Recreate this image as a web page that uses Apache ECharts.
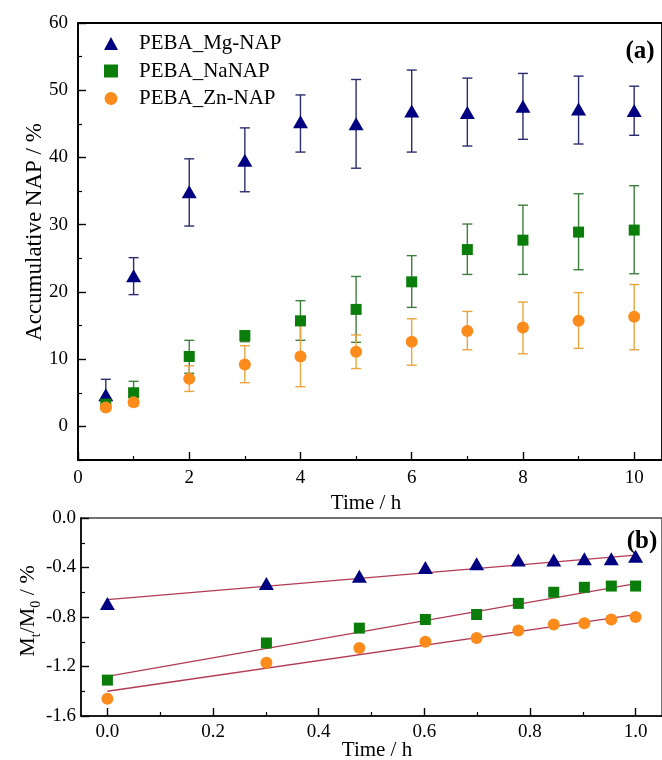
<!DOCTYPE html>
<html>
<head>
<meta charset="utf-8">
<title>NAP release</title>
<script src="https://cdn.jsdelivr.net/npm/echarts@6/dist/echarts.min.js"></script>
<style>
  html, body { margin: 0; padding: 0; background: #fff; }
  #chart { width: 662px; height: 760px; }
</style>
</head>
<body>
<div id="chart"></div>
<script>
// ---- (a) cumulative release, mean with error range ----
const timeH = [0.5, 1, 2, 3, 4, 5, 6, 7, 8, 9, 10];

const mgMean = [4.7, 22.4, 34.9, 39.6, 45.3, 45.0, 46.9, 46.7, 47.6, 47.2, 47.0];
const mgLow  = [2.6, 19.6, 29.8, 34.9, 40.8, 38.4, 40.8, 41.7, 42.7, 42.0, 43.3];
const mgHigh = [7.0, 25.1, 39.8, 44.4, 49.3, 51.6, 53.0, 51.8, 52.5, 52.1, 50.6];

const naMean = [3.3, 5.0, 10.4, 13.5, 15.7, 17.4, 21.5, 26.3, 27.7, 28.9, 29.2];
const naLow  = [2.8, 3.4, 7.9, 12.6, 12.8, 12.5, 17.7, 22.6, 22.6, 23.3, 22.7];
const naHigh = [3.8, 6.7, 12.8, 14.2, 18.7, 22.3, 25.4, 30.1, 32.9, 34.6, 35.8];

const znMean = [2.8, 3.6, 7.1, 9.2, 10.4, 11.1, 12.6, 14.2, 14.7, 15.7, 16.3];
const znLow  = [2.3, 3.0, 5.2, 6.5, 5.9, 8.6, 9.1, 11.4, 10.8, 11.6, 11.4];
const znHigh = [3.3, 4.1, 9.0, 12.0, 15.0, 13.6, 16.0, 17.1, 18.5, 19.9, 21.1];

// ---- (b) log-scale release with linear fits ----
const logTime = [0, 0.301, 0.477, 0.602, 0.699, 0.778, 0.845, 0.903, 0.954, 1.0];
const mgLog = [-0.69, -0.53, -0.47, -0.40, -0.37, -0.34, -0.34, -0.33, -0.33, -0.31];
const naLog = [-1.31, -1.01, -0.89, -0.82, -0.78, -0.69, -0.60, -0.56, -0.55, -0.55];
const znLog = [-1.46, -1.17, -1.05, -1.00, -0.97, -0.91, -0.86, -0.85, -0.82, -0.80];
const mgFit = [[0, -0.66], [1, -0.30]];
const naFit = [[0, -1.28], [1, -0.53]];
const znFit = [[0, -1.40], [1, -0.78]];

// ---- tick labels ----
const topXTicks = [0, 2, 4, 6, 8, 10];
const topXMinor = [1, 3, 5, 7, 9];
const topYTicks = [0, 10, 20, 30, 40, 50, 60];
const topYMinor = [-5, 5, 15, 25, 35, 45, 55];
const botXTicks = [0, 0.2, 0.4, 0.6, 0.8, 1.0];
const botXMinor = [0.1, 0.3, 0.5, 0.7, 0.9];
const botYTicks = [-1.6, -1.2, -0.8, -0.4, 0];
const botYMinor = [-1.4, -1.0, -0.6, -0.2];

const names = ['PEBA_Mg-NAP', 'PEBA_NaNAP', 'PEBA_Zn-NAP'];

const FONT = '"Liberation Serif", "Times New Roman", serif';
const NAVY = '#000080', GREEN = '#0a7d0a', ORANGE = '#fb8c1c';
const FIT = '#b23a55';

function zip(xs, ys) { return xs.map((x, i) => [x, ys[i]]); }
function bars(xs, lo, hi) { return xs.map((x, i) => [x, lo[i], hi[i]]); }

function errorBarItem(params, api) {
  const x = api.value(0);
  const pLo = api.coord([x, api.value(1)]);
  const pHi = api.coord([x, api.value(2)]);
  const cap = 5;
  const style = { stroke: api.visual('color'), lineWidth: 1.4 };
  return {
    type: 'group',
    children: [
      { type: 'line', shape: { x1: pHi[0], y1: pHi[1], x2: pLo[0], y2: pLo[1] }, style },
      { type: 'line', shape: { x1: pHi[0] - cap, y1: pHi[1], x2: pHi[0] + cap, y2: pHi[1] }, style },
      { type: 'line', shape: { x1: pLo[0] - cap, y1: pLo[1], x2: pLo[0] + cap, y2: pLo[1] }, style }
    ]
  };
}

function errorSeries(name, data, color) {
  return {
    type: 'custom', name: name + ' err', xAxisIndex: 0, yAxisIndex: 0,
    renderItem: errorBarItem, data: data,
    encode: { x: 0, y: [1, 2] },
    itemStyle: { color: color }, silent: true, z: 2
  };
}

function majorAxis(opts) {
  return Object.assign({
    type: 'value',
    axisLine: { show: true, onZero: false, lineStyle: { color: '#000', width: 1.6 } },
    splitLine: { show: false }
  }, opts);
}
function minorAxis(opts) {
  return Object.assign({
    type: 'value',
    axisLine: { show: false, onZero: false },
    splitLine: { show: false },
    axisLabel: { show: false }
  }, opts);
}
function majorTick(values) {
  return { show: true, inside: true, length: 8, customValues: values, lineStyle: { color: '#000', width: 1.4 } };
}
function minorTickAt(values) {
  return { show: true, inside: true, length: 4, customValues: values, lineStyle: { color: '#000', width: 1.2 } };
}
function tickLabel(values, margin, formatter) {
  const l = { color: '#000', fontFamily: FONT, fontSize: 19, margin: margin, customValues: values };
  if (formatter) l.formatter = formatter;
  return l;
}
const oneDecimal = v => v.toFixed(1);

const chart = echarts.init(document.getElementById('chart'), null, { renderer: 'canvas' });

chart.setOption({
  animation: false,
  backgroundColor: '#fff',
  grid: [
    { left: 78, top: 23, width: 593, height: 437, show: true, borderColor: '#000', borderWidth: 1.8, backgroundColor: 'transparent' },
    { left: 81, top: 518, width: 584, height: 198, show: true, borderColor: '#444', borderWidth: 1.4, backgroundColor: 'transparent' }
  ],
  xAxis: [
    majorAxis({ gridIndex: 0, position: 'bottom', min: 0, max: 10.5,
      axisTick: majorTick(topXTicks), axisLabel: tickLabel(topXTicks, 9) }),
    minorAxis({ gridIndex: 0, position: 'bottom', min: 0, max: 10.5, axisTick: minorTickAt(topXMinor) }),
    majorAxis({ gridIndex: 1, position: 'bottom', min: -0.05, max: 1.05,
      axisTick: majorTick(botXTicks), axisLabel: tickLabel(botXTicks, 7, oneDecimal) }),
    minorAxis({ gridIndex: 1, position: 'bottom', min: -0.05, max: 1.05, axisTick: minorTickAt(botXMinor) })
  ],
  yAxis: [
    majorAxis({ gridIndex: 0, position: 'left', min: -5, max: 60,
      axisTick: majorTick(topYTicks), axisLabel: tickLabel(topYTicks, 10) }),
    minorAxis({ gridIndex: 0, position: 'left', min: -5, max: 60, axisTick: minorTickAt(topYMinor) }),
    majorAxis({ gridIndex: 1, position: 'left', min: -1.6, max: 0,
      axisTick: majorTick(botYTicks), axisLabel: tickLabel(botYTicks, 5, oneDecimal) }),
    minorAxis({ gridIndex: 1, position: 'left', min: -1.6, max: 0, axisTick: minorTickAt(botYMinor) })
  ],
  legend: {
    data: [
      { name: names[0], icon: 'triangle' },
      { name: names[1], icon: 'rect' },
      { name: names[2], icon: 'circle' }
    ],
    orient: 'vertical', left: 99, top: 28,
    itemWidth: 14, itemHeight: 13, itemGap: 6.5,
    textStyle: { fontFamily: FONT, fontSize: 21, color: '#000', padding: [0, 0, 0, 16] },
    selectedMode: false
  },
  graphic: [
    { type: 'text', x: 35, y: 232, rotation: Math.PI / 2,
      style: { text: 'Accumulative NAP / %', font: '23px ' + FONT, fill: '#000', align: 'center', verticalAlign: 'middle' } },
    { type: 'text', x: 366, y: 503,
      style: { text: 'Time / h', font: '21px ' + FONT, fill: '#000', align: 'center', verticalAlign: 'middle' } },
    { type: 'text', x: 377, y: 750,
      style: { text: 'Time / h', font: '21px ' + FONT, fill: '#000', align: 'center', verticalAlign: 'middle' } },
    { type: 'text', x: 27, y: 611, rotation: Math.PI / 2,
      style: {
        text: '{m|M}{s|t}{m|/M}{s|0}{m| / %}',
        align: 'center', verticalAlign: 'middle',
        rich: {
          m: { fontFamily: FONT, fontSize: 22, fill: '#000', color: '#000', lineHeight: 24, verticalAlign: 'bottom' },
          s: { fontFamily: FONT, fontSize: 14, fill: '#000', color: '#000', lineHeight: 24, verticalAlign: 'bottom', padding: [0, 0, -4, 0] }
        }
      } },
    { type: 'text', x: 640, y: 52,
      style: { text: '(a)', font: 'bold 25px ' + FONT, fill: '#000', align: 'center', verticalAlign: 'middle' } },
    { type: 'text', x: 642, y: 542,
      style: { text: '(b)', font: 'bold 25px ' + FONT, fill: '#000', align: 'center', verticalAlign: 'middle' } }
  ],
  series: [
    errorSeries(names[0], bars(timeH, mgLow, mgHigh), '#2c2c6e'),
    { type: 'scatter', name: names[0], xAxisIndex: 0, yAxisIndex: 0, data: zip(timeH, mgMean),
      symbol: 'triangle', symbolSize: [15, 13], itemStyle: { color: NAVY, opacity: 1 }, z: 3 },
    errorSeries(names[1], bars(timeH, naLow, naHigh), '#3e7e3e'),
    { type: 'scatter', name: names[1], xAxisIndex: 0, yAxisIndex: 0, data: zip(timeH, naMean),
      symbol: 'rect', symbolSize: 11, itemStyle: { color: GREEN, opacity: 1 }, z: 3 },
    errorSeries(names[2], bars(timeH, znLow, znHigh), '#e9a640'),
    { type: 'scatter', name: names[2], xAxisIndex: 0, yAxisIndex: 0, data: zip(timeH, znMean),
      symbol: 'circle', symbolSize: 12, itemStyle: { color: ORANGE, opacity: 1 }, z: 3 },

    { type: 'line', name: 'fit Mg', xAxisIndex: 2, yAxisIndex: 2, data: mgFit, showSymbol: false,
      lineStyle: { color: FIT, width: 1.3 }, z: 2, silent: true },
    { type: 'line', name: 'fit Na', xAxisIndex: 2, yAxisIndex: 2, data: naFit, showSymbol: false,
      lineStyle: { color: FIT, width: 1.3 }, z: 2, silent: true },
    { type: 'line', name: 'fit Zn', xAxisIndex: 2, yAxisIndex: 2, data: znFit, showSymbol: false,
      lineStyle: { color: FIT, width: 1.3 }, z: 2, silent: true },
    { type: 'scatter', name: names[0], xAxisIndex: 2, yAxisIndex: 2, data: zip(logTime, mgLog),
      symbol: 'triangle', symbolSize: [15, 13], itemStyle: { color: NAVY, opacity: 1 }, z: 3 },
    { type: 'scatter', name: names[1], xAxisIndex: 2, yAxisIndex: 2, data: zip(logTime, naLog),
      symbol: 'rect', symbolSize: 11, itemStyle: { color: GREEN, opacity: 1 }, z: 3 },
    { type: 'scatter', name: names[2], xAxisIndex: 2, yAxisIndex: 2, data: zip(logTime, znLog),
      symbol: 'circle', symbolSize: 12, itemStyle: { color: ORANGE, opacity: 1 }, z: 3 }
  ]
});
</script>
</body>
</html>
